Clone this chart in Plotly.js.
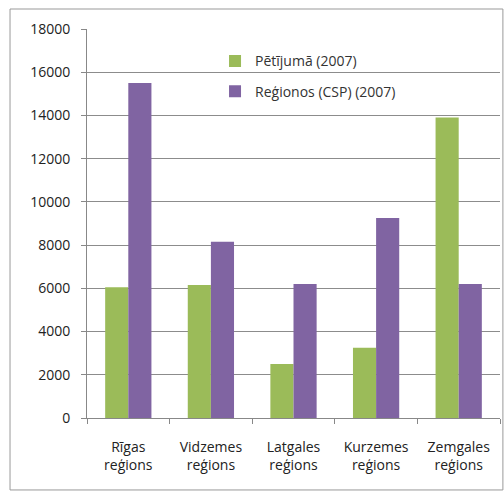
<!DOCTYPE html>
<html><head><meta charset="utf-8">
<script src="https://cdn.plot.ly/plotly-3.0.1.min.js"></script>
<style>html,body{margin:0;padding:0;background:#fff;}#chart{width:504px;height:492px;}</style>
</head><body><div id="chart"></div>
<script>
const categories = ["Rīgas<br>reģions", "Vidzemes<br>reģions", "Latgales<br>reģions", "Kurzemes<br>reģions", "Zemgales<br>reģions"];
const seriesNames = ["Pētījumā (2007)", "Reģionos (CSP) (2007)"];
const petijuma = [6050, 6150, 2500, 3250, 13900];
const regionos = [15500, 8150, 6200, 9250, 6200];
const yTicks = [0, 2000, 4000, 6000, 8000, 10000, 12000, 14000, 16000, 18000];

const fontFam = "'Open Sans', 'Noto Sans', sans-serif";
const traces = [
  {type: "bar", x: categories, y: petijuma, name: seriesNames[0], legendgroup: "a",
   marker: {color: "#9BBB59", line: {width: 0}}},
  {type: "bar", x: categories, y: regionos, name: seriesNames[1], legendgroup: "b",
   marker: {color: "#8064A2", line: {width: 0}}}
];
const layout = {
  width: 504, height: 492,
  margin: {l: 87, r: 4, t: 29, b: 74},
  paper_bgcolor: "#fff", plot_bgcolor: "#fff",
  barmode: "group", bargap: 0.44, bargroupgap: 0,
  font: {family: fontFam, size: 14, color: "#222"},
  xaxis: {
    showline: true, linecolor: "#888", linewidth: 1,
    ticks: "outside", tickson: "boundaries", ticklen: 5, tickcolor: "#888",
    ticklabelstandoff: 16,
    tickfont: {size: 14, color: "#222"}, showgrid: false, fixedrange: true
  },
  yaxis: {
    range: [0, 18000], tickvals: yTicks, tickformat: "d",
    showline: true, linecolor: "#888", linewidth: 1,
    ticks: "outside", ticklen: 5, tickcolor: "#888",
    ticklabelstandoff: 8,
    showgrid: true, gridcolor: "#8c8c8c", gridwidth: 1, zeroline: false,
    tickfont: {size: 14, color: "#222"}, fixedrange: true
  },
  showlegend: true,
  legend: {x: 0.31, y: 0.958, xanchor: "left", yanchor: "top",
    bgcolor: "rgba(0,0,0,0)", tracegroupgap: 9,
    font: {size: 14, color: "#333"}, traceorder: "grouped"},
  shapes: [{type: "rect", xref: "paper", yref: "paper",
    x0: -0.1864, x1: 1.007, y0: -0.185, y1: 1.0514,
    line: {color: "#999", width: 1}, fillcolor: "rgba(0,0,0,0)", layer: "below"}]
};
Plotly.newPlot("chart", traces, layout, {displayModeBar: false, staticPlot: true});
</script></body></html>
